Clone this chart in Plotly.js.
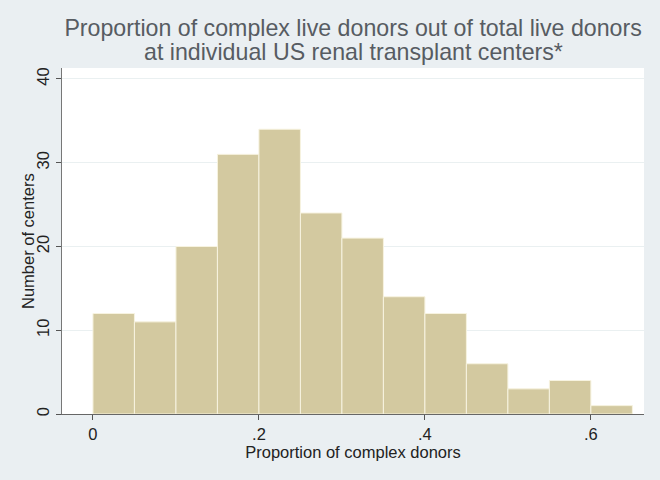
<!DOCTYPE html>
<html>
<head>
<meta charset="utf-8">
<script src="https://cdn.plot.ly/plotly-3.0.1.min.js"></script>
<style>html,body{margin:0;padding:0;background:#eaeff2;}</style>
</head>
<body>
<div id="chart" style="width:660px;height:480px;"></div>
<script>
// Histogram bins (centers), bin width 0.05
var binCenters = [0.025, 0.075, 0.125, 0.175, 0.225, 0.275, 0.325, 0.375, 0.425, 0.475, 0.525, 0.575, 0.625];
var counts = [12, 11, 20, 31, 34, 24, 21, 14, 12, 6, 3, 4, 1];
var xTickVals = [0, 0.2, 0.4, 0.6];
var xTickText = ['0', '.2', '.4', '.6'];
var yTickVals = [0, 10, 20, 30, 40];
var titleLine1 = 'Proportion of complex live donors out of total live donors';
var titleLine2 = 'at individual US renal transplant centers*';
var xTitle = 'Proportion of complex donors';
var yTitle = 'Number of centers';

var trace = {
  type: 'bar',
  x: binCenters,
  y: counts,
  width: 0.05,
  marker: {color: '#d3c9a0', line: {color: '#f7f3e0', width: 1}},
  hoverinfo: 'x+y'
};

var titleFont = {family: 'Liberation Sans, Arial, sans-serif', size: 23.2, color: '#575c62'};
var axFont = {family: 'Liberation Sans, Arial, sans-serif', size: 16.5, color: '#222'};

var layout = {
  width: 660, height: 480,
  margin: {l: 62, r: 16, t: 68, b: 66},
  paper_bgcolor: '#eaeff2',
  plot_bgcolor: '#ffffff',
  showlegend: false,
  bargap: 0,
  font: {family: 'Liberation Sans, Arial, sans-serif', color: '#222'},
  title: {
    text: titleLine1,
    font: titleFont,
    x: 0.535, xanchor: 'center', y: 1 - 36/480, yanchor: 'bottom'
  },
  annotations: [{
    text: titleLine2, font: titleFont, showarrow: false,
    xref: 'paper', yref: 'paper', x: 0.5, xanchor: 'center',
    y: 1 + 1/346, yanchor: 'bottom'
  }, {
    text: yTitle, font: axFont, showarrow: false, textangle: -90,
    xref: 'paper', yref: 'paper', x: -34/582, xanchor: 'center',
    y: 0.5, yanchor: 'middle'
  }],
  xaxis: {
    range: [-0.0373, 0.664],
    tickvals: xTickVals, ticktext: xTickText,
    ticks: 'outside', ticklen: 5, tickcolor: '#555', tickwidth: 1,
    showline: true, linecolor: '#666', linewidth: 1.3,
    showgrid: false, zeroline: false,
    tickfont: axFont,
    title: {text: xTitle, font: axFont, standoff: 2}
  },
  yaxis: {
    range: [0, 41.31],
    tickvals: yTickVals,
    tickangle: -90,
    ticks: 'outside', ticklen: 5, tickcolor: '#555', tickwidth: 1,
    showline: true, linecolor: '#777', linewidth: 1.3,
    showgrid: true, gridcolor: '#eaf0f1', gridwidth: 1,
    zeroline: false,
    tickfont: axFont
  }
};

Plotly.newPlot('chart', [trace], layout, {displayModeBar: false, staticPlot: true});
</script>
</body>
</html>
